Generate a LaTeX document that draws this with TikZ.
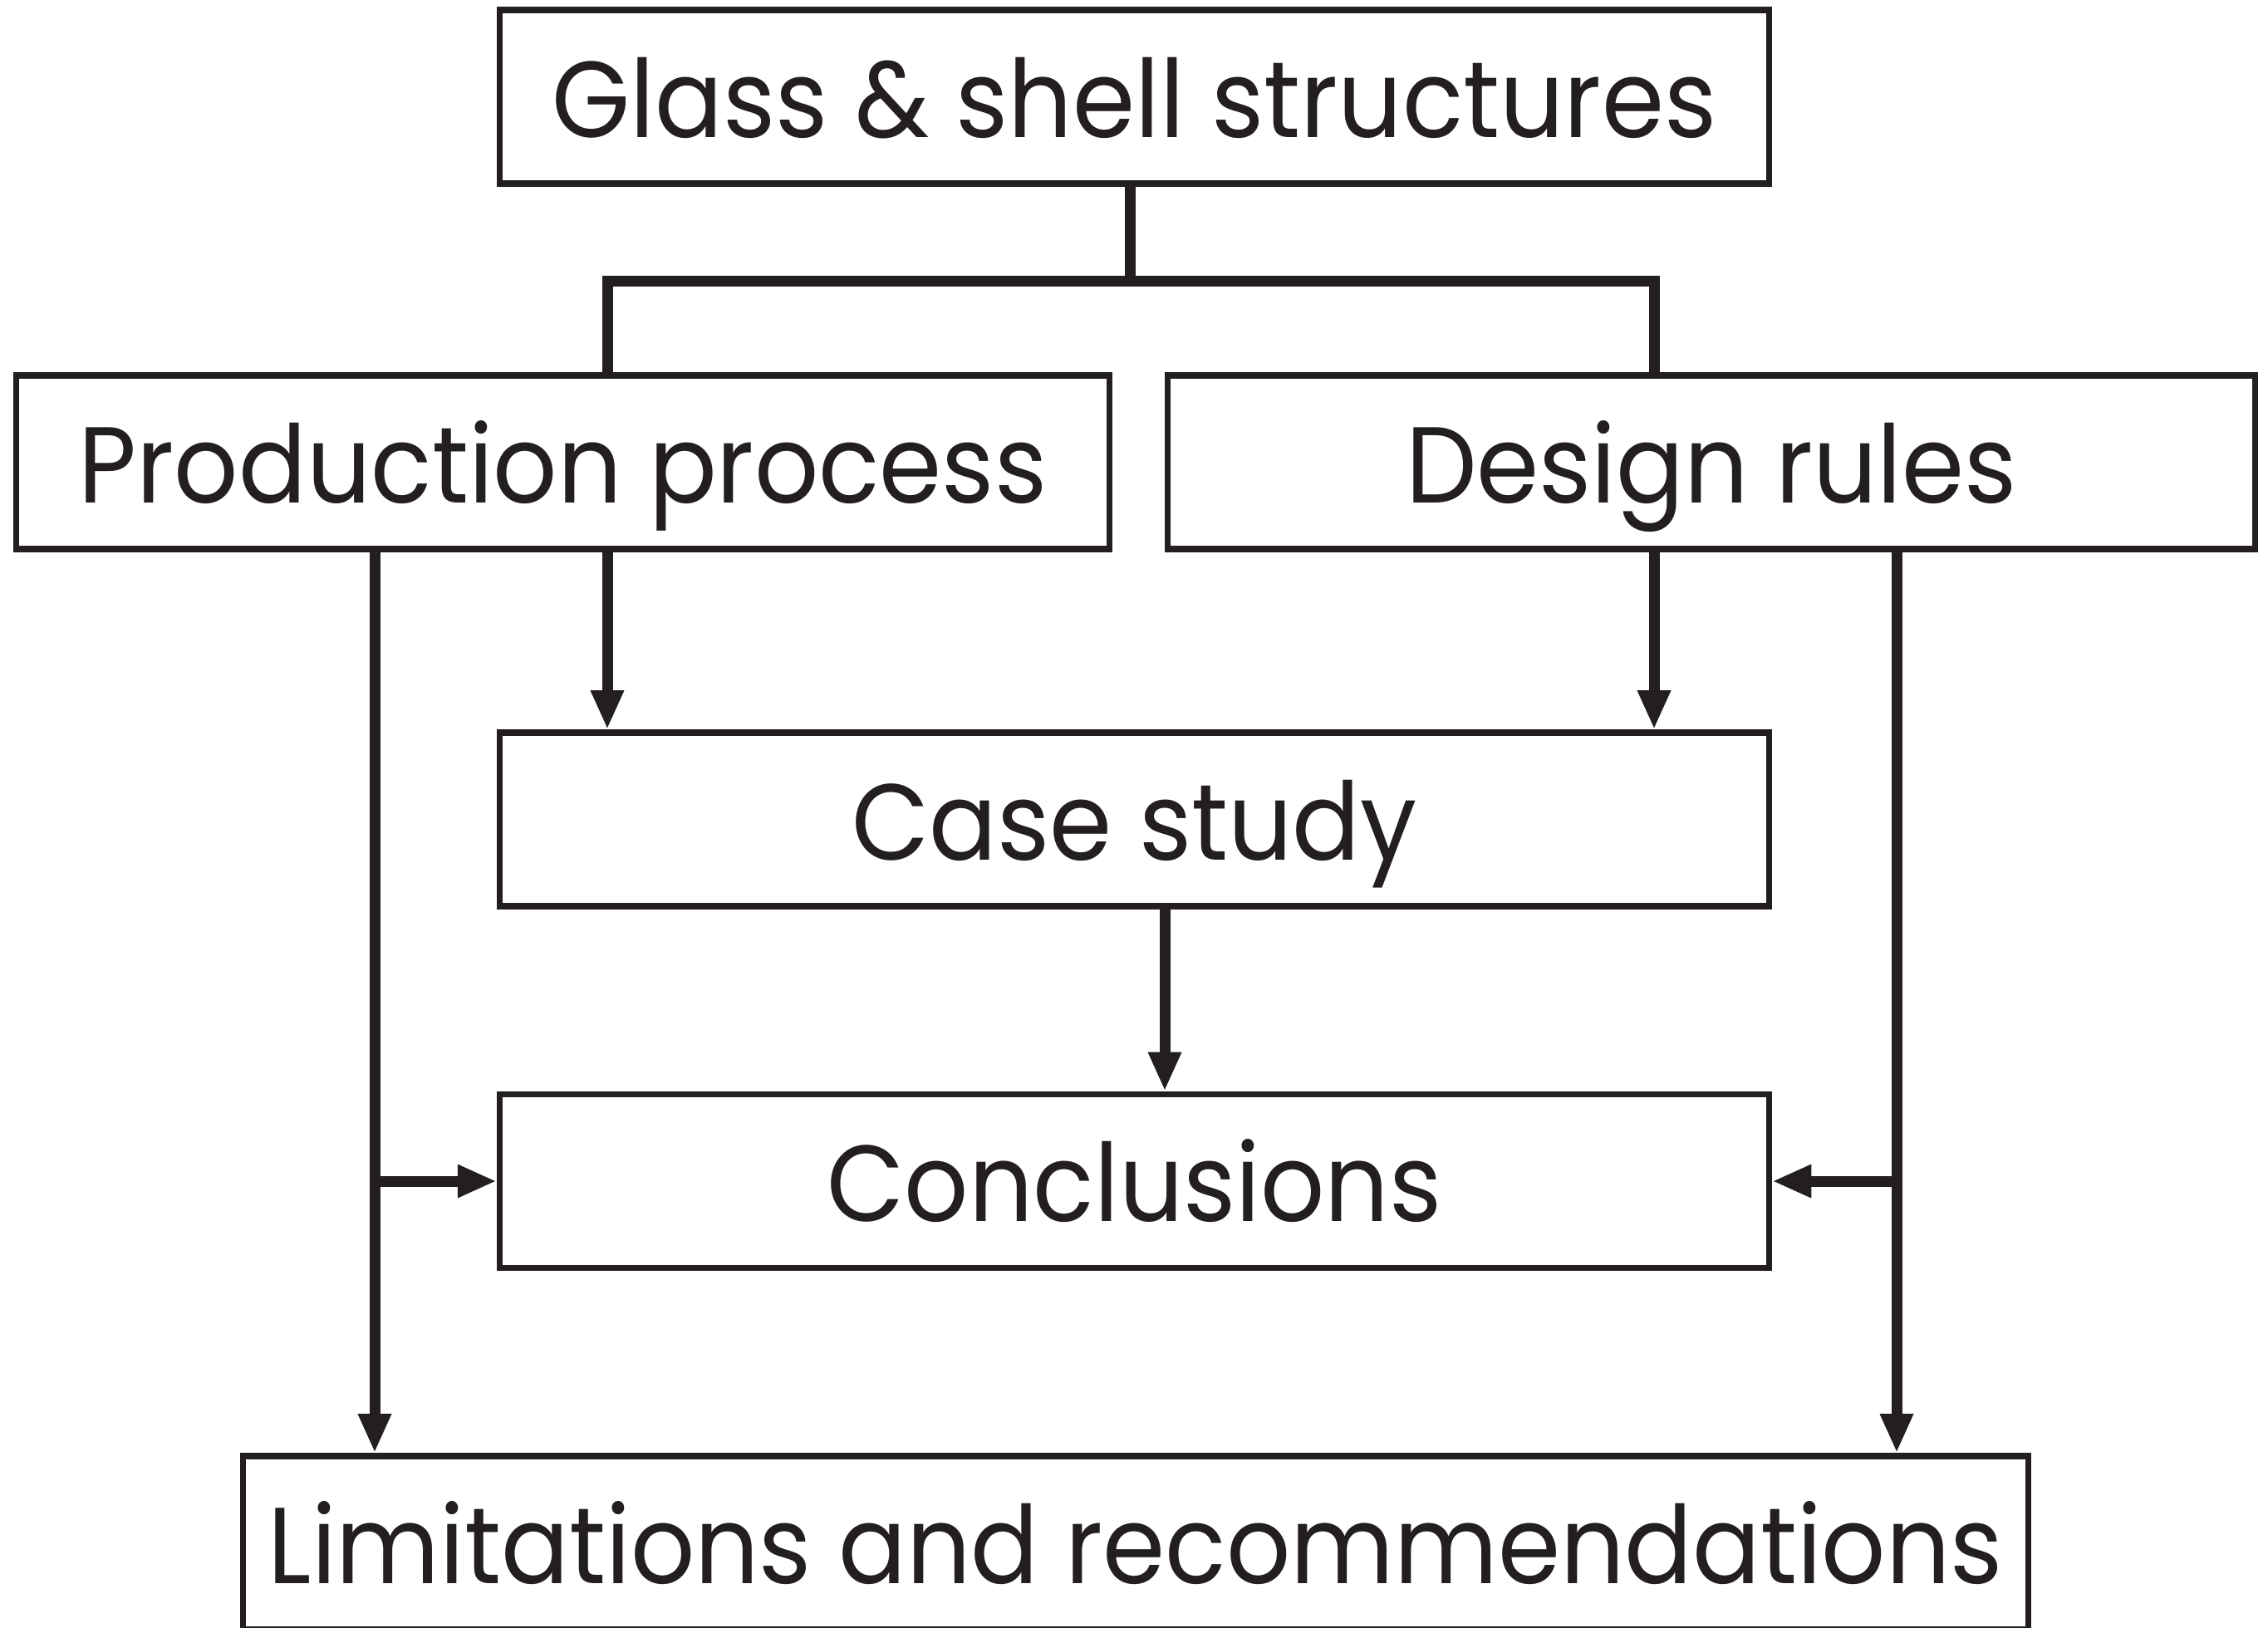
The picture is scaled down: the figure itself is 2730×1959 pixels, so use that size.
\documentclass[tikz,border=0pt]{standalone}
\usepackage{xcolor}
\usepackage{fontspec}
\setmainfont[FakeStretch=0.93]{Poppins}
\usetikzlibrary{arrows.meta}
\definecolor{C231F20}{HTML}{231F20}
\definecolor{CFFFFFF}{HTML}{FFFFFF}

\begin{document}
\begin{tikzpicture}[x=0.01cm,y=-0.01cm,inner sep=0pt,
  box/.style={shape=rectangle, draw=C231F20, line width=0.075cm, minimum height=2.09cm, text height=0.97cm, text depth=0pt, text=C231F20, font=\fontsize{37}{44}\selectfont},
  wire/.style={draw=C231F20, line width=0.13cm, line join=miter},
  arr/.style={wire, -{Triangle[length=0.47cm,width=0.37cm]}}]
\path [fill=CFFFFFF, use as bounding box] (0,0) rectangle (2730,1959);

\node (n0) [box, minimum width=15.27cm, at={(1365.5,116.5)}] {Glass \& shell structures};
\node (n1) [box, minimum width=13.15cm, at={(677.5,556.5)}] {Production process};
\node (n2) [box, minimum width=13.08cm, at={(2060,556.5)}] {Design rules};
\node (n3) [box, minimum width=15.27cm, at={(1365.5,986.5)}] {Case study};
\node (n4) [box, minimum width=15.27cm, at={(1365.5,1422)}] {Conclusions};
\node (n5) [box, minimum width=21.48cm, at={(1367,1857.5)}] {Limitations and recommendations};

\coordinate (j0) at (1360,338);
\coordinate (cp) at (731,0);
\coordinate (cd) at (1991,0);
\coordinate (cc) at (1402,0);
\coordinate (lp) at (451,0);
\coordinate (ld) at (2283,0);

\path [wire] (n0.south -| j0) -- (j0);
\path [wire] (n1.north -| cp) |- (j0) -| (n2.north -| cd);

\path [arr] (n1.south -| cp) -- (n3.north -| cp);
\path [arr] (n2.south -| cd) -- (n3.north -| cd);
\path [arr] (n3.south -| cc) -- (n4.north -| cc);

\path [arr] (n1.south -| lp) -- (n5.north -| lp);
\path [arr] (n4.west -| lp) -- (n4.west);
\path [arr] (n2.south -| ld) -- (n5.north -| ld);
\path [arr] (n4.east -| ld) -- (n4.east);
\end{tikzpicture}
\end{document}
